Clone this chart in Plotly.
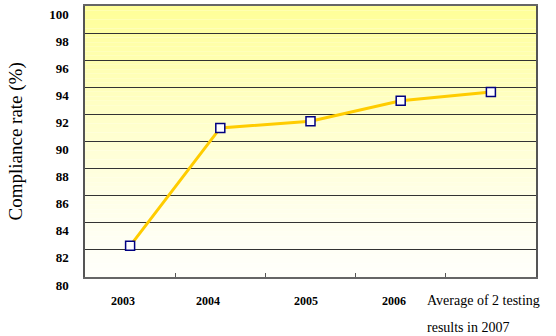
import plotly.graph_objects as go

categories = ["2003", "2004", "2005", "2006", "Average of 2 testing results in 2007"]
tick_labels = ["2003", "2004", "2005", "2006", "Average of 2 testing<br>results in 2007"]
compliance = [82.3, 91.0, 91.5, 93.0, 93.65]
y_ticks = [80, 82, 84, 86, 88, 90, 92, 94, 96, 98, 100]

SERIF = "Times New Roman, Liberation Serif, serif"

fig = go.Figure()
fig.add_trace(go.Scatter(
    x=categories, y=compliance, mode="lines+markers",
    line=dict(color="#FFCC00", width=3),
    marker=dict(symbol="square", size=9, color="white",
                line=dict(color="#000080", width=1.5)),
    cliponaxis=False, showlegend=False))

# vertical gradient background of plot area
n = 60
shapes = []
for i in range(n):
    f = i / n
    b = int(round(250 - (250 - 150) * (f ** 1.3)))
    shapes.append(dict(type="rect", xref="x domain", yref="y domain",
                       x0=0, x1=1, y0=f, y1=(i + 1) / n,
                       fillcolor=f"rgb(255,255,{b})", line=dict(width=0), layer="below"))

fig.update_layout(
    width=556, height=336,
    margin=dict(l=85, r=20, t=6, b=59, autoexpand=False),
    paper_bgcolor="white", plot_bgcolor="white",
    shapes=shapes,
    font=dict(family=SERIF, color="black"),
)
fig.update_xaxes(
    type="category", showticklabels=False, showgrid=False, automargin=False,
    tickson="boundaries", ticks="inside", ticklen=4, tickcolor="#555",
    showline=True, linecolor="#666", linewidth=1.5, mirror=True,
    range=[-0.5, 4.5])
fig.update_yaxes(
    range=[80, 100], tickvals=y_ticks, ticktext=[str(v) for v in y_ticks],
    showgrid=True, gridcolor="#333", gridwidth=1, zeroline=False, automargin=False,
    showline=True, linecolor="#555", linewidth=1.5, mirror=True,
    ticks="", ticklabeloverflow="allow",
    tickfont=dict(family=SERIF, size=13, color="black", weight="bold"),
    ticklabelstandoff=12, ticklabelshift=8)

xshifts = [-7, -12, -5, -7, -66]
for i, (lbl, xs) in enumerate(zip(tick_labels, xshifts)):
    lines = lbl.split("<br>")
    last = len(lines) > 1
    for j, line in enumerate(lines):
        fig.add_annotation(
            x=i, y=0, xref="x", yref="paper", yanchor="top",
            xanchor="left" if last else "center",
            xshift=xs, yshift=-14 - 27 * j if last else -15, showarrow=False, text=line,
            font=dict(family=SERIF, size=14 if last else 12,
                      color="black", weight="normal" if last else "bold"))
fig.add_annotation(
    x=0, y=0.5, xref="paper", yref="paper", xanchor="center", yanchor="middle",
    xshift=-70, textangle=-90, showarrow=False, text="Compliance rate (%)",
    font=dict(family=SERIF, size=19, color="black"))

fig.write_html("out.html")
